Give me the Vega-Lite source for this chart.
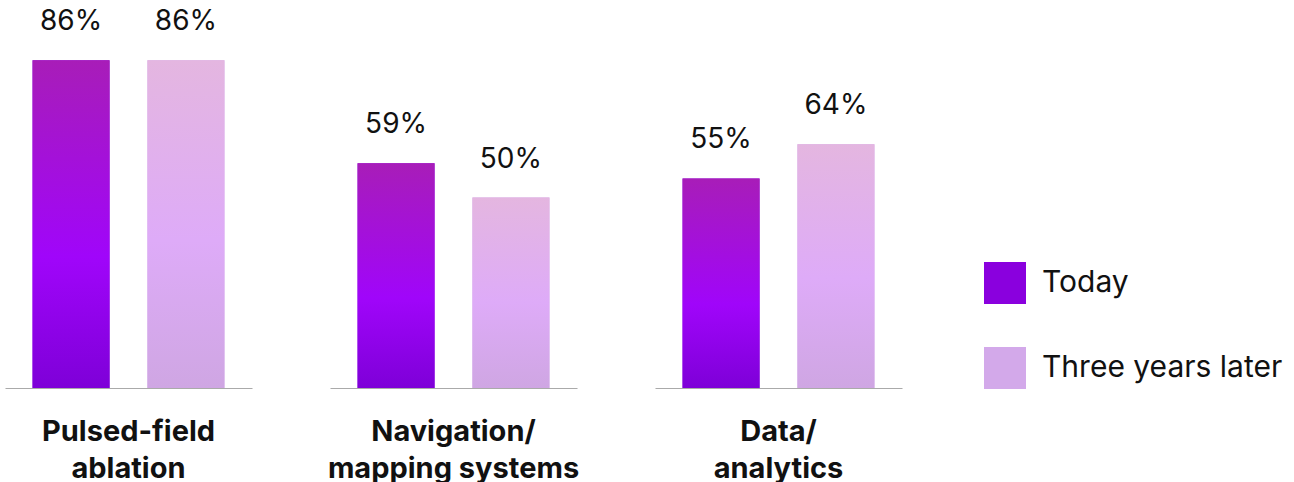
{
  "$schema": "https://vega.github.io/schema/vega-lite/v6.json",
  "padding": {"top": 7, "left": 5, "right": 0, "bottom": 0},
  "data": {"values": [
    {"cat": "Pulsed-field ablation", "series": "Today", "value": 86},
    {"cat": "Pulsed-field ablation", "series": "Three years later", "value": 86},
    {"cat": "Navigation/ mapping systems", "series": "Today", "value": 59},
    {"cat": "Navigation/ mapping systems", "series": "Three years later", "value": 50},
    {"cat": "Data/ analytics", "series": "Today", "value": 55},
    {"cat": "Data/ analytics", "series": "Three years later", "value": 64}
  ]},
  "facet": {
    "column": {
      "field": "cat", "type": "nominal",
      "sort": ["Pulsed-field ablation", "Navigation/ mapping systems", "Data/ analytics"],
      "title": null,
      "header": {
        "labelOrient": "bottom",
        "labelPadding": 30,
        "labelFont": "Inter",
        "labelFontSize": 29,
        "labelFontWeight": "bold",
        "labelColor": "#111111",
        "labelLineHeight": 37,
        "labelBaseline": "top",
        "labelExpr": "datum.value == 'Pulsed-field ablation' ? ['Pulsed-field', 'ablation'] : datum.value == 'Data/ analytics' ? ['Data/', 'analytics'] : ['Navigation/', 'mapping systems']"
      }
    }
  },
  "spacing": 78,
  "spec": {
    "width": 247,
    "height": 381,
    "encoding": {
      "x": {
        "field": "series", "type": "nominal",
        "sort": ["Today", "Three years later"],
        "scale": {"paddingInner": 0.33, "paddingOuter": 0.24},
        "axis": {"title": null, "labels": false, "ticks": false, "domain": true, "domainColor": "#aaaaaa", "domainWidth": 1.2, "grid": false}
      },
      "y": {
        "field": "value", "type": "quantitative",
        "scale": {"domain": [0, 100]},
        "axis": null
      }
    },
    "layer": [
      {
        "mark": {"type": "bar"},
        "encoding": {
          "color": {
            "field": "series", "type": "nominal",
            "sort": ["Today", "Three years later"],
            "scale": {
              "domain": ["Today", "Three years later"],
              "range": ["#8a00de", "#d3a9ea"]
            },
            "legend": {
              "title": null,
              "orient": "none",
              "legendX": 979,
              "legendY": 255,
              "symbolType": "square",
              "symbolSize": 1764,
              "symbolStrokeWidth": 0,
              "symbolOpacity": 1,
              "labelFont": "Inter",
              "labelFontSize": 30,
              "labelColor": "#111111",
              "labelOffset": 16,
              "rowPadding": 43,
              "labelLimit": 400
            }
          }
        }
      },
      {
        "transform": [{"filter": "datum.series === 'Today'"}],
        "mark": {"type": "bar", "fill": {"gradient": "linear", "x1": 0, "y1": 0, "x2": 0, "y2": 1, "stops": [
          {"offset": 0, "color": "#a81db8"},
          {"offset": 0.6, "color": "#a005fa"},
          {"offset": 1, "color": "#7e00d8"}
        ]}}
      },
      {
        "transform": [{"filter": "datum.series === 'Three years later'"}],
        "mark": {"type": "bar", "fill": {"gradient": "linear", "x1": 0, "y1": 0, "x2": 0, "y2": 1, "stops": [
          {"offset": 0, "color": "#e4b6e0"},
          {"offset": 0.55, "color": "#deabf8"},
          {"offset": 1, "color": "#cfa6e3"}
        ]}}
      },
      {
        "transform": [{"calculate": "datum.value + '%'", "as": "label"}],
        "mark": {"type": "text", "font": "Inter", "fontSize": 28, "color": "#111111", "baseline": "alphabetic", "dy": -30},
        "encoding": {
          "text": {"field": "label", "type": "nominal"}
        }
      }
    ]
  },
  "config": {
    "view": {"stroke": null},
    "font": "Inter"
  }
}
